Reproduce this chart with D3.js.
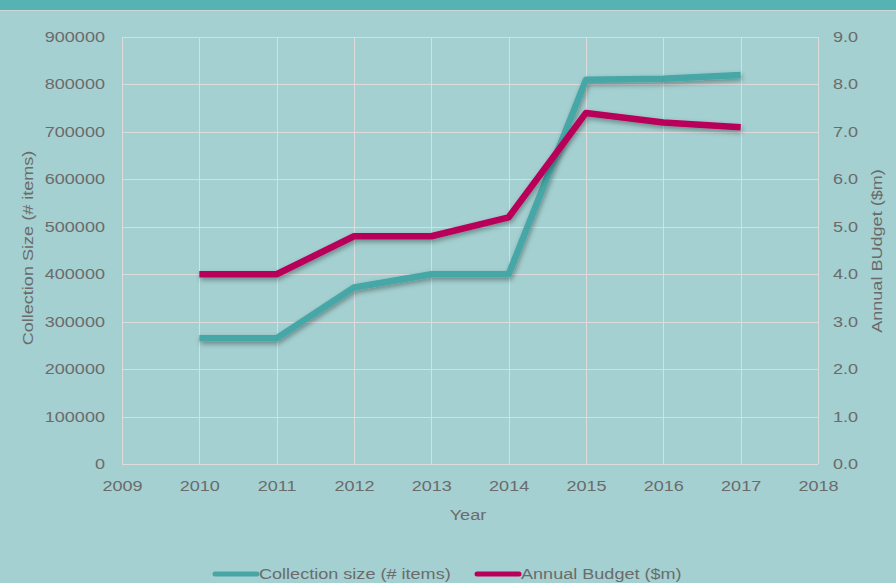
<!DOCTYPE html>
<html><head><meta charset="utf-8">
<script src="https://cdn.jsdelivr.net/npm/d3@7"></script>
<style>
html,body{margin:0;padding:0;background:#a4d0d1;}
svg{display:block;font-family:"Liberation Sans",Arial,sans-serif;}
</style></head>
<body>
<script>
const years = [2010, 2011, 2012, 2013, 2014, 2015, 2016, 2017];
const collection = [265000, 265000, 372000, 400000, 400000, 810000, 812000, 820000];
const budget = [4.0, 4.0, 4.8, 4.8, 5.2, 7.4, 7.2, 7.1];
const xTicks = [2009, 2010, 2011, 2012, 2013, 2014, 2015, 2016, 2017, 2018];
const leftTicks = [0, 100000, 200000, 300000, 400000, 500000, 600000, 700000, 800000, 900000];
const rightTicks = [0, 1, 2, 3, 4, 5, 6, 7, 8, 9];
const seriesNames = ["Collection size (# items)", "Annual Budget ($m)"];

const W = 896, H = 583;
const m = {l: 122, r: 818, t: 37, b: 464};
const svg = d3.select("body").append("svg").attr("width", W).attr("height", H);

const defs = svg.append("defs");
const f = defs.append("filter").attr("id", "sh").attr("x", "-10%").attr("y", "-10%").attr("width", "120%").attr("height", "130%");
f.append("feDropShadow").attr("dx", 1).attr("dy", 2.5).attr("stdDeviation", 2.5).attr("flood-color", "#000").attr("flood-opacity", 0.35);

svg.append("rect").attr("width", W).attr("height", H).attr("fill", "#a4d0d1");
svg.append("rect").attr("width", W).attr("height", 10).attr("fill", "#55b3b3");
svg.append("line").attr("x1", 0).attr("x2", W).attr("y1", 10.5).attr("y2", 10.5).attr("stroke", "#cfd8d8").attr("stroke-width", 1);

const x = d3.scaleLinear().domain([2009, 2018]).range([m.l, m.r]);
const yL = d3.scaleLinear().domain([0, 900000]).range([m.b, m.t]);
const yR = d3.scaleLinear().domain([0, 9]).range([m.b, m.t]);
const gridC = "#dcdcdc";

// grid
const g = svg.append("g");
g.selectAll(".hx").data(leftTicks).join("line")
  .attr("x1", m.l).attr("x2", m.r).attr("y1", d => Math.round(yL(d)) + 0.5).attr("y2", d => Math.round(yL(d)) + 0.5)
  .attr("stroke", gridC).attr("stroke-width", 1);
g.selectAll(".vx").data(xTicks).join("line")
  .attr("y1", m.t).attr("y2", m.b).attr("x1", d => Math.round(x(d)) + 0.5).attr("x2", d => Math.round(x(d)) + 0.5)
  .attr("stroke", gridC).attr("stroke-width", 1);

// axes
const txtC = "#6b6b6b";
const axL = svg.append("g").attr("transform", `translate(${m.l},0)`)
  .call(d3.axisLeft(yL).tickValues(leftTicks).tickFormat(d3.format("d")).tickSize(0).tickPadding(17));
const axR = svg.append("g").attr("transform", `translate(${m.r},0)`)
  .call(d3.axisRight(yR).tickValues(rightTicks).tickFormat(d3.format(".1f")).tickSize(0).tickPadding(15));
const axB = svg.append("g").attr("transform", `translate(0,${m.b})`)
  .call(d3.axisBottom(x).tickValues(xTicks).tickFormat(d3.format("d")).tickSize(0).tickPadding(17));
[axL, axR, axB].forEach(a => {
  a.select(".domain").remove();
  a.selectAll("text").attr("fill", txtC).style("font-size", "14px").style("font-family", "Liberation Sans, Arial, sans-serif");
});

// titles
svg.append("text").attr("x", 468).attr("y", 520).attr("text-anchor", "middle").attr("fill", txtC)
  .style("font-size", "14px").text("Year");
svg.append("text").attr("transform", "translate(33,248) rotate(-90)").attr("text-anchor", "middle").attr("fill", txtC)
  .style("font-size", "14px").text("Collection Size (# items)");
svg.append("text").attr("transform", "translate(882,251) rotate(-90)").attr("text-anchor", "middle").attr("fill", txtC)
  .style("font-size", "14px").text("Annual BUdget ($m)");

// lines
const cTeal = "#47a7a7", cRed = "#b8005a";
const lineL = d3.line().x((d, i) => x(years[i])).y(d => yL(d));
const lineR = d3.line().x((d, i) => x(years[i])).y(d => yR(d));
svg.append("path").datum(collection).attr("d", lineL).attr("fill", "none").attr("stroke", cTeal)
  .attr("stroke-width", 6.5).attr("stroke-linejoin", "round").attr("filter", "url(#sh)");
svg.append("path").datum(budget).attr("d", lineR).attr("fill", "none").attr("stroke", cRed)
  .attr("stroke-width", 6.5).attr("stroke-linejoin", "round").attr("filter", "url(#sh)");

// legend
const leg = [{name: seriesNames[0], c: cTeal, x0: 215}, {name: seriesNames[1], c: cRed, x0: 477}];
const lg = svg.append("g");
leg.forEach(l => {
  lg.append("line").attr("x1", l.x0).attr("x2", l.x0 + 42).attr("y1", 574).attr("y2", 574)
    .attr("stroke", l.c).attr("stroke-width", 5).attr("stroke-linecap", "round");
  lg.append("text").attr("x", l.x0 + 44).attr("y", 579).attr("fill", txtC).style("font-size", "14px").text(l.name);
});

// widen text horizontally to match the reference's stretched lettering
svg.selectAll("text").each(function() {
  const w = this.getComputedTextLength();
  d3.select(this).attr("textLength", w * 1.29).attr("lengthAdjust", "spacingAndGlyphs");
});
</script>
</body></html>
